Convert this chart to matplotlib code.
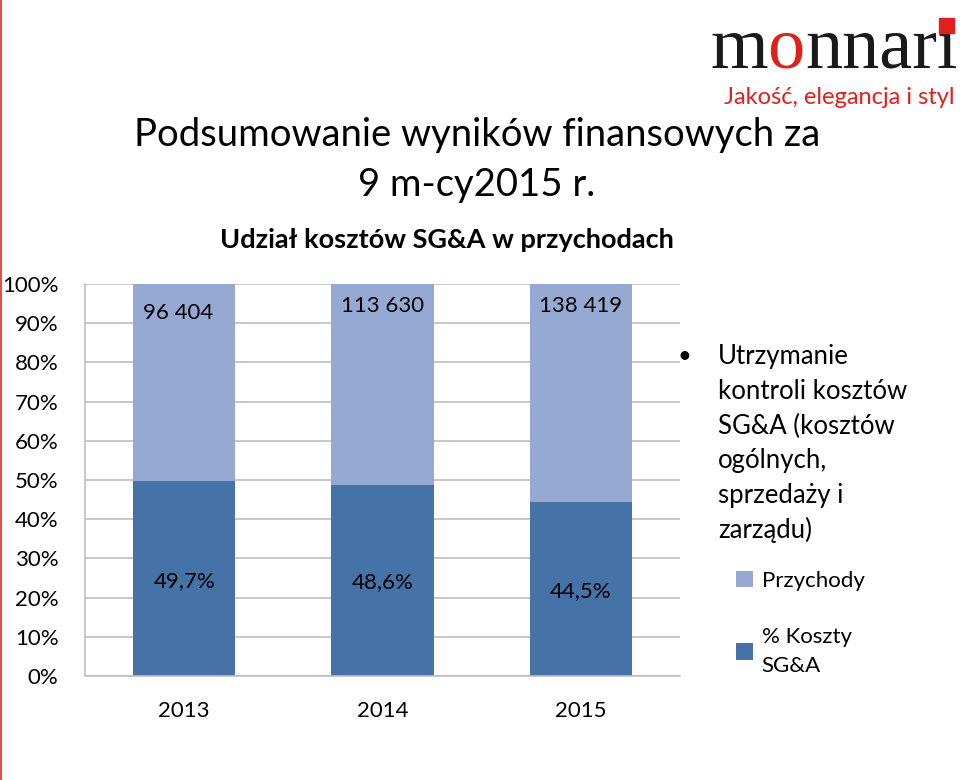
import numpy as np
import matplotlib
matplotlib.use("Agg")
import matplotlib.pyplot as plt
from matplotlib.lines import Line2D
from matplotlib.patches import Rectangle

# data
years = ["2013", "2014", "2015"]
koszty_pct = [49.7, 48.6, 44.5]          # % Koszty SG&A
przychody_lbl = ["96 404", "113 630", "138 419"]
koszty_lbl = ["49,7%", "48,6%", "44,5%"]
yticks = np.arange(0, 101, 10)

bullet_lines = ["Utrzymanie", "kontroli kosztów", "SG&A (kosztów",
                "ogólnych,", "sprzedaży i", "zarządu)"]

# label placement (axis units), tuned by eye
top_lbl_y = [92.6, 94.3, 94.3]
top_lbl_dx = [-0.03, 0.0, 0.0]
bot_lbl_y = [24.2, 24.0, 21.7]

DARK = "#4572A7"
LIGHT = "#95A9D2"
RED = "#E0201B"
FONT = ["Lato", "DejaVu Sans"]

plt.rcParams["font.family"] = FONT

W, H = 960, 780
def px(x, y):
    return x / W, 1 - y / H

fig = plt.figure(figsize=(9.6, 7.8), dpi=100)
ax = fig.add_axes([85 / W, 1 - 676 / H, 595 / W, 392 / H])

x = np.arange(len(years))
rest = [100 - v for v in koszty_pct]
bw = 0.515
b_dark = ax.bar(x, koszty_pct, width=bw, color=DARK, zorder=2)
b_light = ax.bar(x, rest, bottom=koszty_pct, width=bw, color=LIGHT, zorder=2)

for i in range(len(years)):
    ax.text(x[i] + top_lbl_dx[i], top_lbl_y[i], przychody_lbl[i],
            ha="center", va="center", fontsize=16, color="black", zorder=3)
    ax.text(x[i], bot_lbl_y[i], koszty_lbl[i],
            ha="center", va="center", fontsize=16, color="black", zorder=3)

ax.set_xlim(-0.5, 2.5)
ax.set_ylim(0, 100)
ax.set_yticks(yticks)
ax.set_yticklabels([f"{v}%" for v in yticks])
ax.set_xticks(x)
ax.set_xticklabels(years)
ax.yaxis.grid(True, color="#BFBFBF", linewidth=1.2)
ax.set_axisbelow(True)
ax.tick_params(axis="y", length=0, pad=19, labelsize=16)
ax.tick_params(axis="x", length=0, pad=18, labelsize=16)
for s in ["top", "right"]:
    ax.spines[s].set_visible(False)
for s in ["left", "bottom"]:
    ax.spines[s].set_color("#BFBFBF")
    ax.spines[s].set_linewidth(1.2)

# titles
fig.text(*px(477, 135), "Podsumowanie wyników finansowych za", ha="center",
         va="center", fontsize=27.5)
fig.text(*px(477, 185), "9 m-cy2015 r.", ha="center", va="center",
         fontsize=27.5)
fig.text(*px(447, 240), "Udział kosztów SG&A w przychodach", ha="center",
         va="center", fontsize=19.5, fontweight="bold")

# logo: black "m", red "o", black "nnarı" with a red square as the dot
LOGO = dict(fontsize=53.5, family="Liberation Serif")
t1 = fig.text(*px(710, 68), "m", color="#1a1a1a", va="baseline", **LOGO)
t2 = ax.annotate("o", xy=(1, 0), xycoords=t1, color=RED, va="bottom",
                 annotation_clip=False, **LOGO)
t3 = ax.annotate("nnarı", xy=(1, 0), xycoords=t2, color="#1a1a1a", va="bottom",
                 annotation_clip=False, **LOGO)
fig.canvas.draw()
bb = t3.get_window_extent()
sq = 15
fig.patches.append(Rectangle(((bb.x1 - sq - 3) / W, 1 - 33 / H), sq / W, sq / H,
                             transform=fig.transFigure, color=RED, zorder=5))
fig.text(*px(955, 98), "Jakość, elegancja i styl", ha="right", va="center",
         fontsize=17, color=RED)

# bullet text
fig.text(*px(684, 357), "•", ha="center", va="center", fontsize=17)
for i, ln in enumerate(bullet_lines):
    fig.text(*px(718, 357 + i * 34.6), ln, ha="left", va="center", fontsize=18.5)

# legend
leg = fig.legend(handles=[b_light, b_dark], labels=["Przychody", "% Koszty\nSG&A"],
                 loc="upper left", bbox_to_anchor=px(716, 551), frameon=False,
                 handlelength=0.75, handleheight=0.75, handletextpad=0.4,
                 labelspacing=1.6, fontsize=16)
leg.get_texts()[1].set_linespacing(1.6)

# thin red line on the left edge
fig.lines.append(Line2D([0.0015, 0.0015], [0, 1], transform=fig.transFigure,
                        color="#D9534F", linewidth=1.5))

fig.savefig("out.png", dpi=100)
